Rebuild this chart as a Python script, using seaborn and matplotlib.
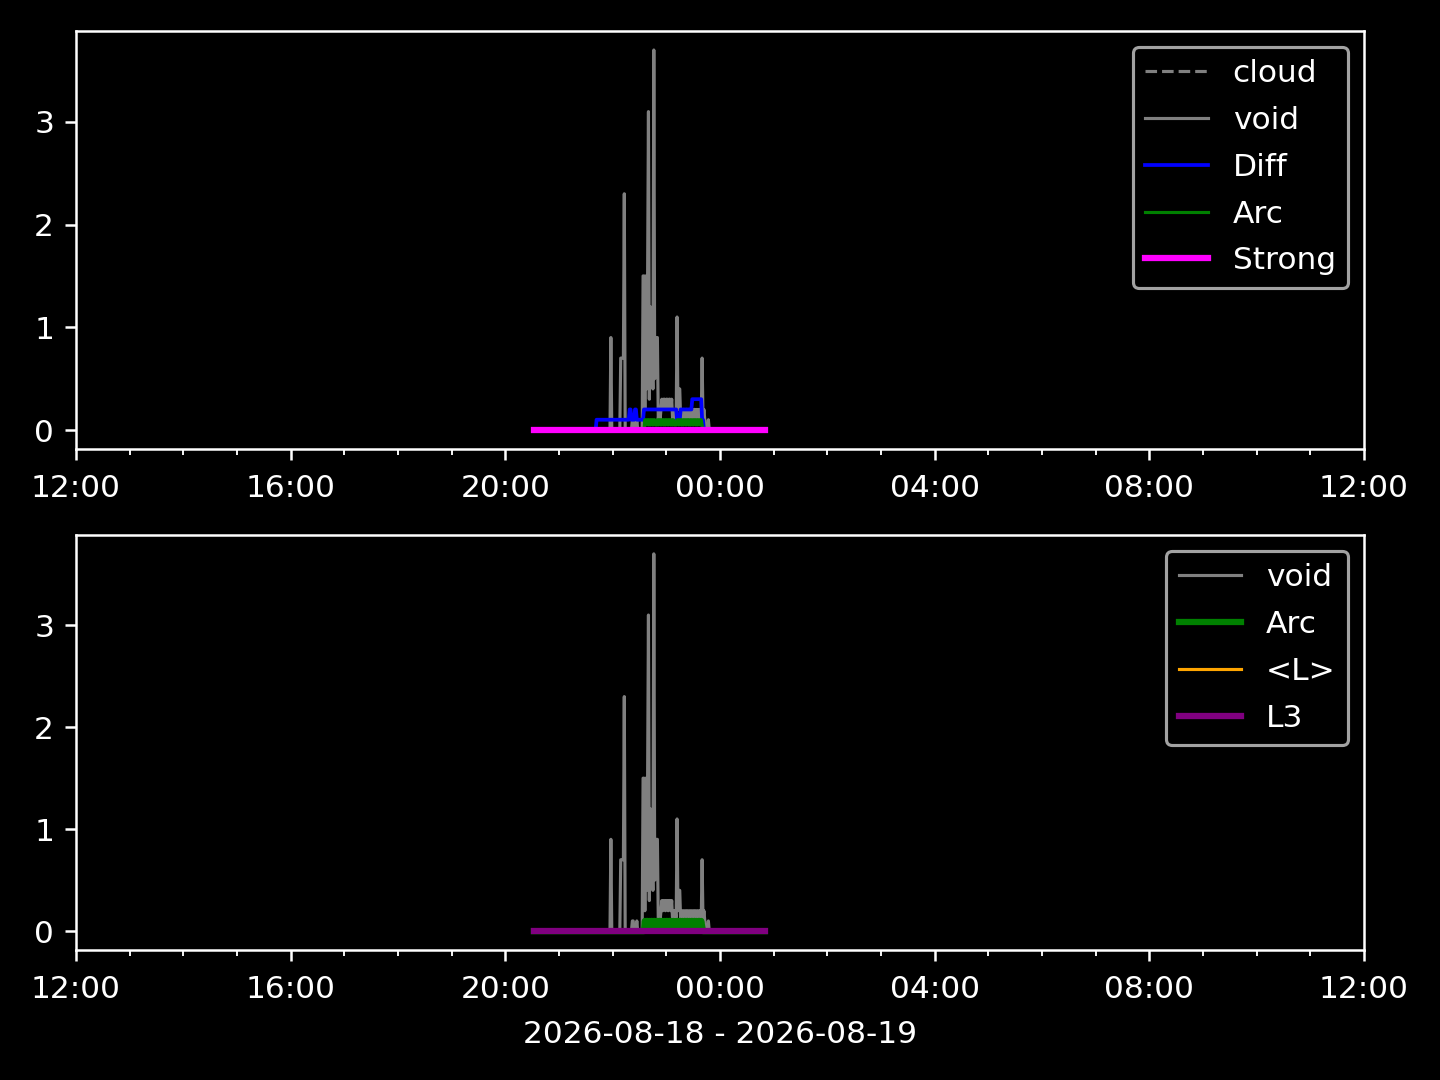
import pandas as pd
import numpy as np
import matplotlib
matplotlib.use("Agg")
import matplotlib.pyplot as plt
import matplotlib.dates as mdates
import seaborn as sns

plt.style.use("dark_background")

# ---- data (minutes after 2026-08-18 20:29) ----
START = pd.Timestamp("2026-08-18 20:29")
XMIN = pd.Timestamp("2026-08-18 12:00")
XMAX = pd.Timestamp("2026-08-19 12:00")

void_min = [3, 88, 89, 90, 99, 100, 101, 102, 103, 104, 105, 112, 113, 114, 115, 117, 118, 119,
            124, 125, 126, 127, 128, 129, 130, 131, 132, 133, 134, 135, 136, 137, 138, 139, 140,
            141, 142, 143, 144, 145, 146, 147, 148, 149, 150, 151, 152, 153, 154, 155, 156, 157,
            158, 159, 160, 161, 162, 163, 164, 165, 166, 167, 168, 169, 170, 171, 172, 173, 174,
            175, 176, 177, 178, 179, 180, 181, 182, 183, 184, 185, 186, 187, 188, 189, 190, 191,
            192, 193, 194, 195, 197, 198, 199, 261]
void_val = [0, 0, 0.9, 0, 0, 0.7, 0.7, 0.7, 0.7, 2.3, 0, 0, 0.1, 0.1, 0, 0, 0.1, 0,
            0, 1.5, 1.5, 0.2, 1.5, 0.4, 1.4, 3.1, 0.3, 1.2, 0.6, 0.9, 0.4, 3.7, 0.5, 0.9, 0.9,
            0.9, 0.1, 0.2, 0.1, 0.2, 0.3, 0.2, 0.3, 0.3, 0.2, 0.3, 0.3, 0.2, 0.3, 0.3, 0.2, 0.3,
            0.1, 0.2, 0.1, 0.2, 0.1, 1.1, 0.2, 0.4, 0.4, 0.1, 0.2, 0.1, 0.2, 0.2, 0.1, 0.2, 0.2,
            0.1, 0.2, 0.2, 0.1, 0.2, 0.2, 0.1, 0.2, 0.2, 0.1, 0.2, 0.1, 0.2, 0.1, 0.2, 0.1, 0.7,
            0.1, 0.2, 0.1, 0, 0, 0.1, 0, 0]

diff_min = [3, 72, 73, 109, 110, 111, 112, 115, 116, 117, 118, 125, 126, 162, 163, 166, 167,
            179, 180, 190, 191, 192, 193, 261]
diff_val = [0, 0, 0.1, 0.1, 0.2, 0.2, 0.1, 0.1, 0.2, 0.2, 0.1, 0.1, 0.2, 0.2, 0.1, 0.1, 0.2,
            0.2, 0.3, 0.3, 0.1, 0.1, 0, 0]

arc_min = [3] + list(range(126, 193)) + [261]
arc_val = [0, 0, 0.1, 0.05, 0.1, 0.1, 0.05, 0.1, 0.05, 0.1, 0.1, 0.05, 0.1, 0.1, 0.05, 0.05,
           0.1, 0.05, 0.1, 0.1, 0.05, 0.1, 0.1, 0.05, 0.1, 0.05, 0.1, 0.1, 0.05, 0.1, 0.1, 0.05,
           0.1, 0.05, 0.1, 0.05, 0.05, 0.05, 0.1, 0.1, 0.05, 0.1, 0.1, 0.05, 0.1, 0.05, 0.1, 0.1,
           0.05, 0.1, 0.1, 0.05, 0.1, 0.05, 0.1, 0.1, 0.05, 0.1, 0.1, 0.05, 0.1, 0.05, 0.1, 0.1,
           0.05, 0.1, 0.05, 0, 0]

flat_min = [3, 261]
cloud_val = [0, 0]
strong_val = [0, 0]
meanL_val = [0, 0]
l3_val = [0, 0]

xlabel = "2026-08-18 - 2026-08-19"


def frame(mins, vals):
    return pd.DataFrame({"t": [START + pd.Timedelta(minutes=m) for m in mins], "v": vals})


W, H = 1440.0, 1080.0
fig = plt.figure(figsize=(6.4, 4.8), dpi=225)
ax1 = fig.add_axes([76 / W, 1 - 449 / H, (1364 - 76) / W, 418 / H])
ax2 = fig.add_axes([76 / W, 1 - 950 / H, (1364 - 76) / W, 415 / H])

# top panel
sns.lineplot(data=frame(flat_min, cloud_val), x="t", y="v", ax=ax1, color="grey",
             linestyle="--", linewidth=1, label="cloud")
sns.lineplot(data=frame(void_min, void_val), x="t", y="v", ax=ax1, color="grey",
             linewidth=1, label="void")
sns.lineplot(data=frame(diff_min, diff_val), x="t", y="v", ax=ax1, color="blue",
             linewidth=1.2, label="Diff")
sns.lineplot(data=frame(arc_min, arc_val), x="t", y="v", ax=ax1, color="green",
             linewidth=1, label="Arc")
sns.lineplot(data=frame(flat_min, strong_val), x="t", y="v", ax=ax1, color="magenta",
             linewidth=2, label="Strong")

# bottom panel
sns.lineplot(data=frame(void_min, void_val), x="t", y="v", ax=ax2, color="grey",
             linewidth=1, label="void")
sns.lineplot(data=frame(arc_min, arc_val), x="t", y="v", ax=ax2, color="green",
             linewidth=2, label="Arc")
sns.lineplot(data=frame(flat_min, meanL_val), x="t", y="v", ax=ax2, color="orange",
             linewidth=1, label="<L>")
sns.lineplot(data=frame(flat_min, l3_val), x="t", y="v", ax=ax2, color="purple",
             linewidth=2, label="L3")

for ax in (ax1, ax2):
    ax.set_xlim(XMIN, XMAX)
    ax.xaxis.set_major_locator(mdates.HourLocator(byhour=[0, 4, 8, 12, 16, 20]))
    ax.xaxis.set_minor_locator(mdates.HourLocator())
    ax.xaxis.set_major_formatter(mdates.DateFormatter("%H:%M"))
    ax.tick_params(axis="x", which="major", pad=4.6)
    ax.set_ylabel("")
    ax.set_xlabel("")
    ax.legend(loc="upper right", labelspacing=0.57)

ax2.set_xlabel(xlabel, labelpad=5)

fig.savefig("out.png", dpi=225)
